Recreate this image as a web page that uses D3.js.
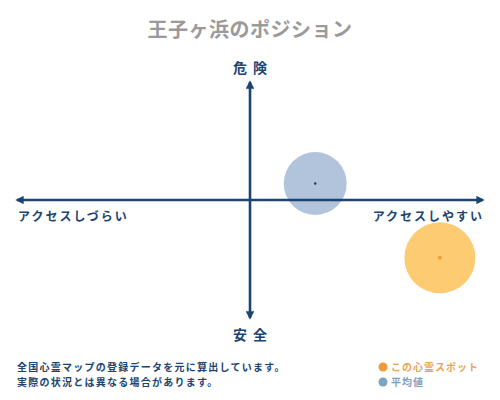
<!DOCTYPE html>
<html>
<head>
<meta charset="utf-8">
<script src="https://d3js.org/d3.v7.min.js"></script>
<style>
  body { margin: 0; background: #fff; }
  svg text { font-family: "Noto Sans CJK JP", sans-serif; }
</style>
</head>
<body>
<div id="chart"></div>
<script>
var width = 500, height = 400;

// chart texts
var title = "王子ヶ浜のポジション";
var yLabels = ["危険", "安全"];
var xLabels = ["アクセスしづらい", "アクセスしやすい"];
var notes = ["全国心霊マップの登録データを元に算出しています。", "実際の状況とは異なる場合があります。"];

// series: position on the map (-1..1) and bubble size
var seriesNames = ["この心霊スポット", "平均値"];
var seriesX = [0.815, 0.28];
var seriesY = [-0.49, 0.14];
var seriesSize = [35.5, 31.5];
var seriesFill = ["#fdcb72", "#b1c4db"];
var seriesDot = ["#f0a030", "#1c3550"];
var legendDot = ["#f09a3a", "#7aa3c6"];
var legendText = ["#e8a453", "#7f9fbf"];

var axisColor = "#1b4472";

var svg = d3.select("#chart").append("svg")
    .attr("width", width).attr("height", height);

var x = d3.scaleLinear().domain([-1, 1]).range([17, 483]);
var y = d3.scaleLinear().domain([-1, 1]).range([318, 82]);
var r = d3.scaleLinear().domain([0, 1]).range([0, 1]);

svg.append("text")
    .attr("x", width / 2).attr("y", 37)
    .attr("text-anchor", "middle")
    .attr("fill", "#9a9a9a")
    .style("font-size", "20px")
    .style("font-weight", "bold")
    .style("letter-spacing", "0.5px")
    .text(title);

// arrow markers
var defs = svg.append("defs");
defs.append("marker")
    .attr("id", "arrow")
    .attr("viewBox", "0 0 10 10")
    .attr("refX", 8).attr("refY", 5)
    .attr("markerWidth", 3.2).attr("markerHeight", 3.2)
    .attr("orient", "auto-start-reverse")
  .append("path")
    .attr("d", "M0,0L10,5L0,10z")
    .attr("fill", axisColor);

// bubbles
var bubbles = svg.selectAll(".bubble")
    .data(seriesNames.map(function(d, i) { return {name: d, i: i}; }))
    .enter().append("g").attr("class", "bubble");

bubbles.append("circle")
    .attr("cx", function(d) { return x(seriesX[d.i]); })
    .attr("cy", function(d) { return y(seriesY[d.i]); })
    .attr("r", function(d) { return r(seriesSize[d.i]); })
    .attr("fill", function(d) { return seriesFill[d.i]; });

// axes
svg.append("line")
    .attr("x1", x(-1)).attr("x2", x(1))
    .attr("y1", y(0)).attr("y2", y(0))
    .attr("stroke", axisColor).attr("stroke-width", 2.6)
    .attr("marker-start", "url(#arrow)")
    .attr("marker-end", "url(#arrow)");

svg.append("line")
    .attr("x1", x(0)).attr("x2", x(0))
    .attr("y1", y(1)).attr("y2", y(-1))
    .attr("stroke", axisColor).attr("stroke-width", 2.6)
    .attr("marker-start", "url(#arrow)")
    .attr("marker-end", "url(#arrow)");

bubbles.append("circle")
    .attr("cx", function(d) { return x(seriesX[d.i]); })
    .attr("cy", function(d) { return y(seriesY[d.i]); })
    .attr("r", function(d) { return d.i == 0 ? 2 : 1.2; })
    .attr("fill", function(d) { return seriesDot[d.i]; });

// axis labels
svg.selectAll(".ylab")
    .data(yLabels)
    .enter().append("text")
    .attr("class", "ylab")
    .attr("x", x(0) + 3)
    .attr("y", function(d, i) { return i == 0 ? 73 : 340; })
    .attr("text-anchor", "middle")
    .attr("fill", axisColor)
    .style("font-size", "14px")
    .style("font-weight", "bold")
    .style("letter-spacing", "6px")
    .text(function(d) { return d; });

svg.selectAll(".xlab")
    .data(xLabels)
    .enter().append("text")
    .attr("class", "xlab")
    .attr("x", function(d, i) { return i == 0 ? 18 : 484; })
    .attr("y", 221)
    .attr("text-anchor", function(d, i) { return i == 0 ? "start" : "end"; })
    .attr("fill", axisColor)
    .style("font-size", "12px")
    .style("font-weight", "bold")
    .style("letter-spacing", "2px")
    .text(function(d) { return d; });

// notes
svg.selectAll(".note")
    .data(notes)
    .enter().append("text")
    .attr("class", "note")
    .attr("x", 17)
    .attr("y", function(d, i) { return 371 + i * 15; })
    .attr("fill", axisColor)
    .style("font-size", "10px")
    .style("font-weight", "bold")
    .style("letter-spacing", "1.25px")
    .text(function(d) { return d; });

// legend
var legend = svg.selectAll(".legend")
    .data(seriesNames)
    .enter().append("g")
    .attr("class", "legend")
    .attr("transform", function(d, i) { return "translate(383," + (367 + i * 15) + ")"; });

legend.append("circle")
    .attr("r", 4.5)
    .attr("fill", function(d, i) { return legendDot[i]; });

legend.append("text")
    .attr("x", 8).attr("y", 4)
    .attr("fill", function(d, i) { return legendText[i]; })
    .style("font-size", "10px")
    .style("font-weight", "bold")
    .style("letter-spacing", "1px")
    .text(function(d) { return d; });
</script>
</body>
</html>
